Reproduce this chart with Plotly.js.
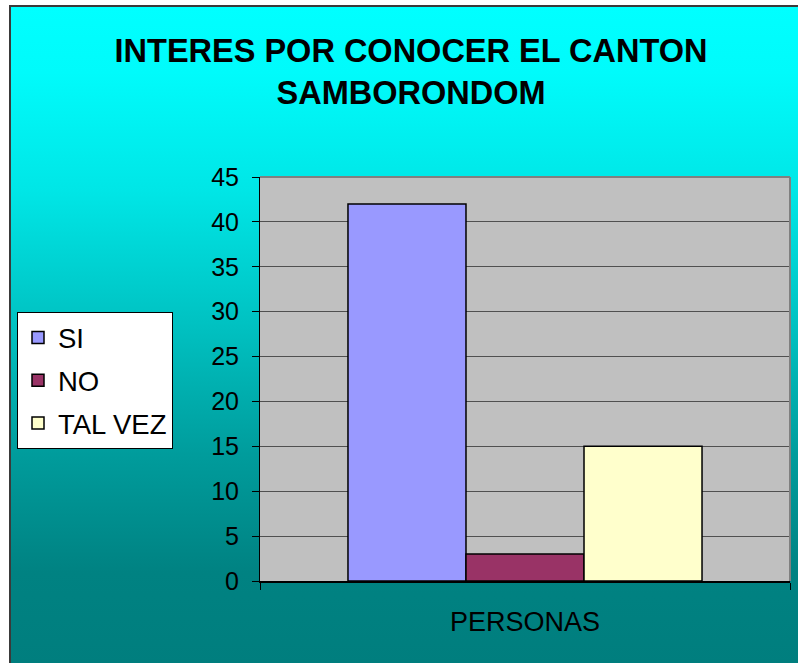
<!DOCTYPE html>
<html>
<head>
<meta charset="utf-8">
<script src="https://cdn.plot.ly/plotly-3.0.1.min.js"></script>
<style>
  html, body { margin: 0; padding: 0; background: #ffffff; }
  #wrap { position: relative; width: 798px; height: 663px; overflow: hidden; }
  #bg {
    position: absolute; left: 9px; top: 5px; width: 789px; height: 658px;
    border-left: 2px solid #3a3a3a; border-top: 2px solid #3a3a3a;
    background: linear-gradient(to bottom, #00FFFF 0%, #00FBFB 10%, #00E6E6 28%, #00C2C2 48%, #009C9C 68%, #008282 86%, #007E7E 100%);
  }
  #chart { position: absolute; left: 0; top: 0; width: 798px; height: 663px; }
</style>
</head>
<body>
<div id="wrap">
  <div id="bg"></div>
  <div id="chart"></div>
</div>
<script>
const categories = ['PERSONAS'];
const seriesNames = ['SI', 'NO', 'TAL VEZ'];
const seriesValues = [[42], [3], [15]];
const seriesColors = ['#9999FF', '#993366', '#FFFFCC'];
const yTickValues = [0, 5, 10, 15, 20, 25, 30, 35, 40, 45];
const chartTitle = 'INTERES POR CONOCER EL CANTON<br>SAMBORONDOM';

const traces = seriesNames.map((name, i) => ({
  type: 'bar',
  name: name,
  x: categories,
  y: seriesValues[i],
  legendgroup: 'g' + i,
  marker: { color: seriesColors[i], line: { color: '#000000', width: 1.5 } },
  hoverinfo: 'none'
}));

const W = 798, H = 663;
const L = 260, R = 8, T = 177, B = 82;
const plotW = W - L - R, plotH = H - T - B;

const layout = {
  width: W, height: H,
  margin: { l: L, r: R, t: T, b: B, pad: 0 },
  paper_bgcolor: 'rgba(0,0,0,0)',
  plot_bgcolor: '#C0C0C0',
  font: { family: '"Liberation Sans", Arial, sans-serif', color: '#000000' },
  title: {
    text: chartTitle,
    font: { family: '"Liberation Sans", Arial, sans-serif', size: 32.5, weight: 'bold', color: '#000000' },
    x: 411 / W, xanchor: 'center', xref: 'container',
    y: 1 - 62 / H, yanchor: 'top', yref: 'container'
  },
  barmode: 'group',
  bargap: 0.332,
  bargroupgap: 0,
  showlegend: true,
  legend: {
    x: (17 - L) / plotW, xanchor: 'left',
    y: 1 - (312 - T) / plotH, yanchor: 'top',
    bgcolor: '#FFFFFF', bordercolor: '#000000', borderwidth: 1,
    font: { size: 27.5, family: '"Liberation Sans", Arial, sans-serif', color: '#000000' },
    tracegroupgap: 4,
    traceorder: 'grouped'
  },
  xaxis: {
    type: 'category',
    showline: true, linecolor: '#000000', linewidth: 1.5,
    ticks: 'outside', tickson: 'boundaries', ticklen: 7, tickcolor: '#000000', tickwidth: 1,
    tickfont: { size: 27 },
    ticklabelstandoff: 16,
    showgrid: false, zeroline: false,
    fixedrange: true
  },
  yaxis: {
    range: [0, 45],
    tickvals: yTickValues,
    ticks: 'outside', ticklen: 7, tickcolor: '#000000', tickwidth: 1,
    tickfont: { size: 25 },
    ticklabelstandoff: 8,
    showline: true, linecolor: '#000000', linewidth: 1,
    showgrid: true, gridcolor: '#505050', gridwidth: 1,
    zeroline: false,
    fixedrange: true
  },
  shapes: [
    { type: 'line', xref: 'paper', yref: 'paper', x0: 0, x1: 1, y0: 1, y1: 1, line: { color: '#808080', width: 2 } },
    { type: 'line', xref: 'paper', yref: 'paper', x0: 1, x1: 1, y0: 0, y1: 1, line: { color: '#808080', width: 2 } }
  ]
};

Plotly.newPlot('chart', traces, layout, { displayModeBar: false, staticPlot: true });
</script>
</body>
</html>
